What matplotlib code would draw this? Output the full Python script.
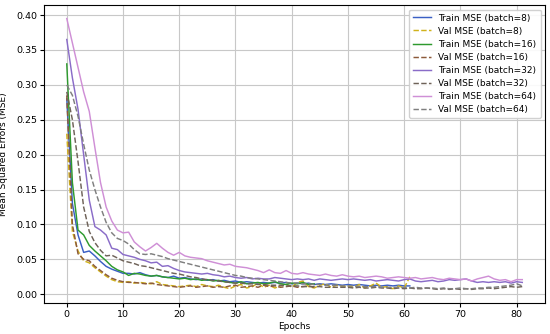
import numpy as np
import matplotlib
matplotlib.use("Agg")
import matplotlib.pyplot as plt

train8 = [0.28,0.13,0.085,0.060,0.062,0.055,0.047,0.040,0.036,0.033,0.030,0.030,0.029,0.031,0.028,0.026,0.027,0.025,0.024,0.026,
          0.023,0.024,0.022,0.021,0.022,0.020,0.021,0.019,0.020,0.018,0.019,0.017,0.018,0.017,0.016,0.017,0.016,0.017,0.016,0.017,
          0.015,0.016,0.015,0.016,0.014,0.015,0.014,0.015,0.014,0.013,0.014,0.013,0.014,0.013,0.012,0.013,0.012,0.013,0.012,0.013,
          0.012,0.012]
val8 = [0.23,0.09,0.062,0.048,0.045,0.038,0.032,0.026,0.021,0.018,0.017,0.018,0.016,0.017,0.016,0.015,0.018,0.014,0.013,0.012,
        0.011,0.012,0.013,0.011,0.014,0.012,0.011,0.013,0.010,0.008,0.012,0.014,0.009,0.011,0.016,0.010,0.013,0.009,0.012,0.015,
        0.010,0.017,0.019,0.011,0.009,0.013,0.015,0.010,0.013,0.011,0.012,0.010,0.014,0.009,0.012,0.016,0.010,0.011,0.008,0.012,
        0.009,0.025]
train16 = [0.33,0.16,0.092,0.085,0.070,0.062,0.055,0.048,0.040,0.035,0.032,0.027,0.030,0.029,0.027,0.026,0.027,0.025,0.024,0.023,
           0.022,0.023,0.021,0.022,0.020,0.021,0.019,0.020,0.018,0.017,0.016,0.018,0.015,0.016,0.017,0.015,0.016,0.018,0.015,0.014,
           0.016,0.015,0.017,0.014,0.015]
val16 = [0.285,0.10,0.058,0.050,0.048,0.040,0.034,0.028,0.023,0.020,0.018,0.017,0.017,0.016,0.015,0.016,0.014,0.013,0.012,0.011,
         0.010,0.011,0.012,0.010,0.011,0.012,0.010,0.011,0.010,0.012,0.013,0.010,0.011,0.012,0.010,0.013,0.011,0.012,0.010,0.011,
         0.012,0.010,0.011,0.012,0.010]
train32 = [0.365,0.31,0.265,0.20,0.135,0.097,0.092,0.085,0.066,0.064,0.057,0.055,0.053,0.050,0.048,0.045,0.046,0.040,0.041,0.037,
           0.034,0.032,0.031,0.030,0.029,0.030,0.028,0.027,0.025,0.026,0.024,0.023,0.024,0.022,0.023,0.022,0.022,0.024,0.023,0.022,
           0.021,0.022,0.021,0.022,0.020,0.022,0.021,0.020,0.021,0.022,0.021,0.022,0.021,0.020,0.021,0.019,0.020,0.021,0.020,0.019,
           0.021,0.022,0.019,0.018,0.019,0.020,0.018,0.019,0.021,0.020,0.021,0.022,0.019,0.017,0.018,0.017,0.018,0.017,0.018,0.016,
           0.018,0.017]
val32 = [0.29,0.25,0.19,0.125,0.09,0.074,0.063,0.055,0.056,0.052,0.048,0.046,0.044,0.041,0.040,0.038,0.036,0.034,0.032,0.030,
         0.029,0.027,0.025,0.024,0.022,0.021,0.020,0.019,0.018,0.017,0.016,0.016,0.015,0.015,0.014,0.014,0.013,0.013,0.013,0.012,
         0.012,0.012,0.011,0.011,0.011,0.011,0.010,0.010,0.010,0.010,0.010,0.009,0.010,0.009,0.009,0.010,0.009,0.009,0.008,0.009,
         0.008,0.009,0.008,0.008,0.009,0.008,0.007,0.008,0.007,0.008,0.007,0.008,0.007,0.008,0.008,0.009,0.008,0.009,0.010,0.011,
         0.010,0.011]
train64 = [0.395,0.36,0.325,0.29,0.262,0.21,0.16,0.125,0.105,0.092,0.088,0.089,0.075,0.068,0.062,0.067,0.073,0.066,0.060,0.056,
           0.060,0.055,0.053,0.052,0.051,0.048,0.046,0.044,0.042,0.043,0.040,0.039,0.038,0.036,0.034,0.031,0.035,0.031,0.030,0.034,
           0.030,0.029,0.031,0.029,0.028,0.027,0.029,0.027,0.026,0.028,0.026,0.025,0.026,0.024,0.025,0.026,0.025,0.023,0.024,0.025,
           0.024,0.023,0.024,0.022,0.023,0.024,0.022,0.021,0.023,0.022,0.021,0.022,0.019,0.022,0.024,0.026,0.022,0.020,0.021,0.018,
           0.021,0.021]
val64 = [0.30,0.285,0.255,0.215,0.178,0.150,0.125,0.103,0.088,0.080,0.077,0.072,0.064,0.058,0.057,0.058,0.056,0.054,0.051,0.049,
         0.047,0.045,0.043,0.041,0.039,0.037,0.035,0.033,0.031,0.029,0.027,0.026,0.024,0.023,0.022,0.021,0.020,0.019,0.018,0.017,
         0.016,0.016,0.015,0.015,0.014,0.014,0.013,0.013,0.013,0.012,0.012,0.012,0.011,0.011,0.011,0.011,0.010,0.010,0.010,0.010,
         0.010,0.009,0.010,0.009,0.009,0.009,0.008,0.009,0.008,0.008,0.009,0.008,0.008,0.009,0.009,0.010,0.010,0.011,0.012,0.013,
         0.015,0.012]

series = [
    ("Train MSE (batch=8)", train8, "-", "#3a5fc4"),
    ("Val MSE (batch=8)", val8, "--", "#d0b21c"),
    ("Train MSE (batch=16)", train16, "-", "#2e9a2e"),
    ("Val MSE (batch=16)", val16, "--", "#8c5a3a"),
    ("Train MSE (batch=32)", train32, "-", "#8a6cc8"),
    ("Val MSE (batch=32)", val32, "--", "#6e6258"),
    ("Train MSE (batch=64)", train64, "-", "#cf8fd6"),
    ("Val MSE (batch=64)", val64, "--", "#7f7f7f"),
]

fig = plt.figure(figsize=(5.5, 3.34), dpi=100)
ax = fig.add_axes([0.08, 0.093, 0.911, 0.892])
for label, vals, ls, col in series:
    ax.plot(np.arange(len(vals)), vals, ls, color=col, lw=1.05, label=label)

ax.grid(True, color="#c8c8c8", lw=0.8)
ax.set_axisbelow(True)
ax.set_xlabel("Epochs", fontsize=6.5, labelpad=2)
ax.set_ylabel("Mean Squared Errors (MSE)", fontsize=6.5)
ax.yaxis.set_label_coords(-0.072, 0.5)
ax.tick_params(labelsize=6.8, length=3, pad=2)
ax.set_yticks(np.arange(0, 0.41, 0.05))
ax.yaxis.set_major_formatter(matplotlib.ticker.FormatStrFormatter("%.2f"))
ax.legend(loc="upper right", fontsize=6.5, handlelength=2, labelspacing=0.45,
          borderpad=0.45, handletextpad=0.8, framealpha=0.9)
fig.savefig("out.png", dpi=100)
